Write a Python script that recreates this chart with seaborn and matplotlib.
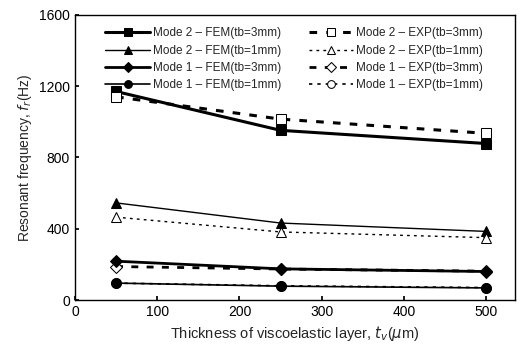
import matplotlib
matplotlib.use("Agg")
import matplotlib.pyplot as plt
import seaborn as sns
import pandas as pd

thickness = [50, 250, 500]
m2_fem_3 = [1170, 952, 878]
m2_exp_3 = [1140, 1015, 935]
m2_fem_1 = [545, 432, 385]
m2_exp_1 = [465, 382, 350]
m1_fem_3 = [218, 175, 160]
m1_exp_3 = [188, 174, 162]
m1_fem_1 = [95, 78, 68]
m1_exp_1 = [95, 80, 70]

labels = ["Mode 2 \u2013 FEM(tb=3mm)", "Mode 2 \u2013 EXP(tb=3mm)",
          "Mode 2 \u2013 FEM(tb=1mm)", "Mode 2 \u2013 EXP(tb=1mm)",
          "Mode 1 \u2013 FEM(tb=3mm)", "Mode 1 \u2013 EXP(tb=3mm)",
          "Mode 1 \u2013 FEM(tb=1mm)", "Mode 1 \u2013 EXP(tb=1mm)"]
series = [m2_fem_3, m2_exp_3, m2_fem_1, m2_exp_1, m1_fem_3, m1_exp_3, m1_fem_1, m1_exp_1]

sns.set_theme(style="ticks")
plt.rcParams['font.family'] = ['Liberation Sans', 'DejaVu Sans']

styles = {
    0: dict(marker='s', ls='-', lw=2.2, mfc='black', ms=7, z=3),
    1: dict(marker='s', ls=(0, (2.5, 3)), lw=2.2, mfc='white', ms=7, z=4),
    2: dict(marker='^', ls='-', lw=1.0, mfc='black', ms=7, z=3),
    3: dict(marker='^', ls=(0, (2, 3)), lw=1.0, mfc='white', ms=7, z=4),
    4: dict(marker='D', ls='-', lw=2.0, mfc='black', ms=6, z=4),
    5: dict(marker='D', ls=(0, (2.5, 3)), lw=2.0, mfc='white', ms=6, z=3),
    6: dict(marker='o', ls='-', lw=1.2, mfc='black', ms=7, z=4),
    7: dict(marker='o', ls=(0, (2, 3)), lw=1.2, mfc='white', ms=7, z=3),
}

fig = plt.figure(figsize=(5.24, 3.53), dpi=100)
ax = fig.add_axes([0.143, 0.150, 0.840, 0.808])

order = [0, 2, 4, 6, 1, 3, 5, 7]
for i in order:
    df = pd.DataFrame({"x": thickness, "y": series[i]})
    st = styles[i]
    sns.lineplot(data=df, x="x", y="y", ax=ax, color='black', marker=st['marker'],
                 linestyle=st['ls'], linewidth=st['lw'], markerfacecolor=st['mfc'],
                 markeredgecolor='black', markersize=st['ms'], label=labels[i],
                 zorder=st['z'])

ax.set_xlim(0, 535)
ax.set_ylim(0, 1600)
ax.set_xticks([0, 100, 200, 300, 400, 500])
ax.set_yticks([0, 400, 800, 1200, 1600])
ax.tick_params(direction='in', length=3, labelsize=10, colors='black')
for s in ax.spines.values():
    s.set_color('black')
    s.set_linewidth(1.0)
ax.set_xlabel(r"Thickness of viscoelastic layer, $t_v$($\mu$m)", fontsize=10.5)
ax.set_ylabel(r"Resonant frequency, $f_r$(Hz)", fontsize=10)

handles, labs = ax.get_legend_handles_labels()
ax.legend(handles, labs, ncol=2, loc='upper left', bbox_to_anchor=(0.05, 0.985),
          frameon=False, fontsize=8.5, handlelength=3.8, columnspacing=2.3,
          labelspacing=0.45, handletextpad=0.25, borderaxespad=0.3, markerscale=0.8)

fig.savefig("out.png", dpi=100)
